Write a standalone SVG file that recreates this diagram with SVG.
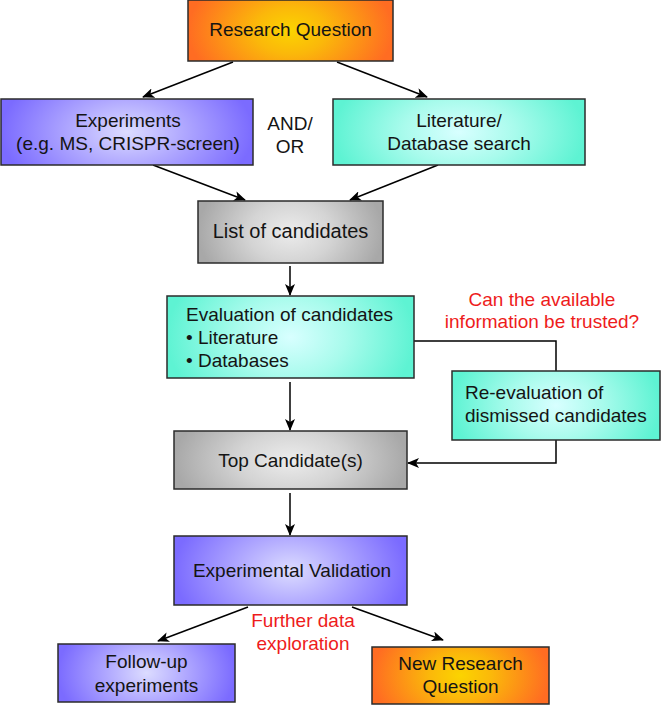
<svg xmlns="http://www.w3.org/2000/svg" width="661" height="705" viewBox="0 0 661 705">
<defs>
<radialGradient id="gOrange" cx="0.5" cy="0.5" r="0.5" gradientTransform="translate(0.5 0.5) scale(1 2.2) translate(-0.5 -0.5)">
<stop offset="0" stop-color="#fbd400"/><stop offset="0.35" stop-color="#fbb80a"/><stop offset="1" stop-color="#ff6c22"/>
</radialGradient>
<radialGradient id="gPurple" cx="0.5" cy="0.5" r="0.5" gradientTransform="translate(0.5 0.5) scale(1 2.2) translate(-0.5 -0.5)">
<stop offset="0" stop-color="#dcdcff"/><stop offset="0.45" stop-color="#b0a8ff"/><stop offset="1" stop-color="#7b6bff"/>
</radialGradient>
<radialGradient id="gCyan" cx="0.5" cy="0.5" r="0.5" gradientTransform="translate(0.5 0.5) scale(1 2.2) translate(-0.5 -0.5)">
<stop offset="0" stop-color="#d8ffff"/><stop offset="0.45" stop-color="#a8fbec"/><stop offset="1" stop-color="#5ef3d3"/>
</radialGradient>
<radialGradient id="gGray" cx="0.5" cy="0.5" r="0.5" gradientTransform="translate(0.5 0.5) scale(1 2.2) translate(-0.5 -0.5)">
<stop offset="0" stop-color="#ececec"/><stop offset="0.45" stop-color="#d4d4d4"/><stop offset="1" stop-color="#a8a8a8"/>
</radialGradient>
<marker id="arr" viewBox="0 0 12 10" refX="11" refY="5" markerWidth="12" markerHeight="10" markerUnits="userSpaceOnUse" orient="auto">
<path d="M0,0 L12,5 L0,10 L3,5 z" fill="#000"/>
</marker>
</defs>
<style>
.box{stroke:#2b2b2b;stroke-width:1.5}
.t{font-family:"Liberation Sans",Arial,sans-serif;font-size:19px;fill:#141414}
.c{text-anchor:middle}
.r{font-family:"Liberation Sans",Arial,sans-serif;font-size:19px;fill:#ee1c1c;text-anchor:middle}
.ln{stroke:#000;stroke-width:1.5;fill:none}
</style>
<rect width="661" height="705" fill="#fff"/>
<g id="connectors">
<line class="ln" x1="233" y1="62" x2="143" y2="97" marker-end="url(#arr)"/>
<line class="ln" x1="337" y1="62" x2="427" y2="97" marker-end="url(#arr)"/>
<line class="ln" x1="153" y1="165" x2="245" y2="200" marker-end="url(#arr)"/>
<line class="ln" x1="438" y1="165" x2="350" y2="200" marker-end="url(#arr)"/>
<line class="ln" x1="290" y1="266" x2="290" y2="295" marker-end="url(#arr)"/>
<line class="ln" x1="290" y1="382" x2="290" y2="430" marker-end="url(#arr)"/>
<polyline class="ln" points="414,341 556,341 556,371"/>
<polyline class="ln" points="556,440 556,463 408,463" marker-end="url(#arr)"/>
<line class="ln" x1="290" y1="493" x2="290" y2="535" marker-end="url(#arr)"/>
<line class="ln" x1="248" y1="607" x2="158" y2="641" marker-end="url(#arr)"/>
<line class="ln" x1="352" y1="607" x2="443" y2="640" marker-end="url(#arr)"/>
</g>
<g id="research-question">
<rect class="box" x="188" y="0" width="205" height="61" fill="url(#gOrange)"/>
<text class="t c" x="290.5" y="36">Research Question</text>
</g>
<g id="experiments">
<rect class="box" x="1" y="99" width="252" height="66" fill="url(#gPurple)"/>
<text class="t c" x="128" y="127">Experiments</text>
<text class="t c" x="128" y="150">(e.g. MS, CRISPR-screen)</text>
</g>
<g id="and-or">
<text class="t c" x="290" y="130">AND/</text>
<text class="t c" x="290" y="153">OR</text>
</g>
<g id="literature">
<rect class="box" x="333" y="99" width="252" height="66" fill="url(#gCyan)"/>
<text class="t c" x="459" y="127">Literature/</text>
<text class="t c" x="459" y="150">Database search</text>
</g>
<g id="list">
<rect class="box" x="198" y="201" width="185" height="62" fill="url(#gGray)"/>
<text class="t c" x="290.5" y="238" style="font-size:20px">List of candidates</text>
</g>
<g id="evaluation">
<rect class="box" x="167" y="296" width="247" height="82" fill="url(#gCyan)"/>
<text class="t" x="186" y="321">Evaluation of candidates</text>
<text class="t" x="186" y="344">• Literature</text>
<text class="t" x="186" y="367">• Databases</text>
</g>
<g id="trust-note">
<text class="r" x="542" y="306">Can the available</text>
<text class="r" x="542" y="328">information be trusted?</text>
</g>
<g id="re-evaluation">
<rect class="box" x="452" y="371" width="208" height="69" fill="url(#gCyan)"/>
<text class="t" x="465" y="399">Re-evaluation of</text>
<text class="t" x="465" y="422">dismissed candidates</text>
</g>
<g id="top-candidates">
<rect class="box" x="174" y="431" width="233" height="58" fill="url(#gGray)"/>
<text class="t c" x="290.5" y="467">Top Candidate(s)</text>
</g>
<g id="experimental-validation">
<rect class="box" x="174" y="536" width="233" height="69" fill="url(#gPurple)"/>
<text class="t c" x="292" y="577">Experimental Validation</text>
</g>
<g id="further-note">
<text class="r" x="303" y="627">Further data</text>
<text class="r" x="303" y="650">exploration</text>
</g>
<g id="follow-up">
<rect class="box" x="58" y="644" width="177" height="58" fill="url(#gPurple)"/>
<text class="t c" x="146.5" y="668">Follow-up</text>
<text class="t c" x="146.5" y="692">experiments</text>
</g>
<g id="new-research-question">
<rect class="box" x="372" y="647" width="177" height="57" fill="url(#gOrange)"/>
<text class="t c" x="460.5" y="670">New Research</text>
<text class="t c" x="460.5" y="693">Question</text>
</g>
</svg>
